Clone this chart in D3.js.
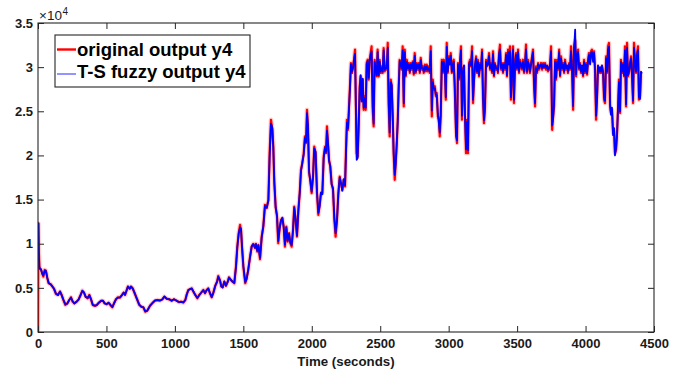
<!DOCTYPE html>
<html><head><meta charset="utf-8">
<script src="https://cdn.jsdelivr.net/npm/d3@7"></script>
<style>body{margin:0;background:#fff;} svg{display:block;}</style>
</head><body><svg id="c" width="698" height="375"></svg>
<script>
const time = [
0,3,6,10,22,31,39,49,58,68, 78,93,105,117,131,146,161,173,185,200,
214,229,241,253,265,283,297,312,324,336, 348,363,375,387,400,416,429,446,462,475,
487,502,516,528,543,555,570,584,599,614, 626,636,648,657,670,679,692,706,721,740,
755,769,784,798,818,838,855,872,891,908, 923,940,959,977,993,1013,1030,1045,1062,1076,
1086,1098,1110,1123,1135,1149,1164,1178,1193,1208, 1220,1232,1244,1256,1269,1281,1295,1308,1317,1330,
1339,1349,1361,1373,1386,1395,1408,1422,1434,1446, 1456,1466,1476,1483,1490,1500,1514,1524,1536,1549,
1561,1573,1585,1592,1602,1610,1622,1634,1646,1658, 1671,1683,1692,1702,1712,1719,1726,1736,1746,1755,
1765,1775,1785,1795,1804,1814,1824,1834,1843,1853, 1863,1872,1882,1892,1902,1912,1921,1931,1941,1950,
1958,1965,1972,1980,1989,1999,2009,2018,2028,2038, 2048,2058,2067,2077,2087,2097,2104,2111,2118,2126,
2135,2145,2155,2165,2174,2184,2194,2204,2213,2223, 2233,2243,2250,2257,2265,2272,2279,2286,2294,2301,
2308,2316,2328,2335,2342,2350,2357,2364,2372,2379, 2386,2394,2401,2408,2416,2423,2430,2437,2445,2452,
2459,2467,2474,2481,2489,2496,2503,2511,2518,2525, 2533,2540,2547,2555,2562,2569,2577,2584,2591,2598,
2606,2613,2620,2628,2635,2642,2650,2657,2664,2672, 2679,2686,2694,2701,2708,2716,2723,2730,2738,2745,
2752,2760,2767,2774,2782,2789,2796,2804,2811,2818, 2826,2833,2840,2847,2855,2862,2869,2877,2884,2891,
2899,2906,2913,2921,2928,2935,2942,2950,2957,2964, 2972,2979,2986,2993,3001,3008,3015,3023,3030,3037,
3044,3054,3061,3068,3076,3083,3090,3097,3105,3112, 3119,3127,3134,3141,3149,3156,3163,3171,3178,3185,
3192,3200,3207,3214,3222,3229,3236,3244,3251,3258, 3265,3273,3280,3287,3295,3302,3309,3317,3324,3331,
3338,3346,3353,3360,3368,3375,3382,3390,3397,3404, 3412,3419,3426,3434,3441,3448,3455,3463,3470,3477,
3485,3492,3499,3507,3514,3521,3529,3536,3543,3551, 3558,3565,3572,3580,3587,3594,3602,3609,3616,3624,
3631,3638,3646,3653,3660,3668,3675,3682,3690,3697, 3704,3712,3719,3726,3734,3741,3748,3756,3763,3770,
3777,3785,3792,3799,3807,3814,3821,3829,3836,3843, 3850,3858,3865,3872,3880,3887,3894,3902,3909,3916,
3924,3931,3938,3945,3953,3960,3967,3974,3982,3989, 3996,4004,4011,4018,4025,4033,4040,4047,4055,4062,
4069,4077,4084,4091,4098,4106,4113,4120,4128,4135, 4142,4150,4157,4164,4171,4179,4186,4193,4201,4208,
4215,4223,4230,4237,4244,4252,4259,4266,4274,4281, 4288,4296,4303,4310,4317,4325,4332,4339,4347,4354,
4361,4369,4376,4383,4390,4398,4405,4412
];
const original = [
0,12300,9300,7400,7030,6650,6270,7030,6950,6090, 5520,5410,5140,4910,4310,4200,4570,4200,3630,3060,
3250,3630,3930,3440,3250,3440,3700,4200,4680,4460, 4000,3820,4200,3700,3060,2950,3060,3330,3550,3520,
3250,3140,3330,3060,2800,3250,3700,3930,3890,4200, 4460,4200,4760,5140,4910,5140,4950,4390,3820,3060,
2870,2800,2300,2420,2950,3330,3550,3630,3550,3700, 4000,3780,3700,3550,3700,3550,3370,3440,3330,3630,
4200,4760,4840,4950,4570,4200,3820,4200,4460,4760, 4390,4760,4950,4390,3930,4460,5220,5700,6350,5820,
5140,5070,5700,5220,5700,6200,5900,5700,5520,7400, 9670,11190,12130,11570,9670,7400,5520,6090,7030,8540,
9670,9980,9490,9980,9110,9870,8240,10810,11940,14400, 14030,14970,20260,24040,22900,21010,16860,14210,13070,10060,
11760,12700,12890,11940,9670,11940,10240,11190,10060,9670, 11570,14210,12700,10810,13830,15730,18370,19130,20260,22150,
21400,25170,23280,18000,17240,15730,17610,21010,20260,15730, 13270,14400,15730,15730,19880,21010,20260,23280,21400,19500,
18740,16860,16100,12700,10810,12700,15730,17610,16860,16100, 17240,16480,20640,24040,22900,25550,27820,30470,29340,30090,
30840,31980,20260,19880,22900,27820,28950,26310,28580,25170, 26680,25170,30470,30840,28580,30840,31600,32350,25170,23280,
30840,29710,28950,31980,28950,30840,29340,30090,29340,32170, 29520,30090,29710,32740,25550,22150,28580,27820,24420,20260,
17240,19130,21010,24040,27820,30840,30470,29710,32350,25550, 31980,28950,30840,29710,30470,29340,30470,29710,30650,29150,
31600,29340,30470,29710,30470,29340,31040,29710,30090,29340, 30280,29520,30280,29520,30090,29340,32350,24420,28580,27440,
27820,26680,27060,24420,24040,22150,24420,30840,29340,30840, 29710,26310,32740,29340,31220,30470,31600,29340,30470,30840,
27820,22530,21400,30470,28580,30650,32350,24040,29710,30090, 24420,20260,24040,20260,30470,30840,30090,32350,25930,28580,
30090,31220,29340,30840,28950,30470,29710,31980,26310,23660, 25170,30840,30090,30470,31600,29710,30470,29340,31790,28950,
30470,29710,30090,29340,31600,32540,29710,30470,29340,30470, 29710,31600,28950,31980,30470,32350,26310,29710,32350,25930,
30470,31600,29710,31980,29340,30840,30090,29710,30840,29340, 30470,32540,29340,30840,30090,29340,30470,31220,31980,27820,
25550,30090,29340,30470,29710,30090,30470,29710,30470,29900, 30470,29710,30090,29520,29710,30470,32350,22900,24420,25550,
30840,28580,30840,29710,31980,28950,31220,29710,30470,29340, 30840,29710,30090,29340,30470,29710,32350,29340,25170,32350,
33000,28950,31600,31980,29710,30470,29340,30090,28950,30840, 29340,30470,29150,30840,31600,30470,31790,31980,30840,31790,
29710,24040,26680,30090,29340,29900,29340,30090,29340,26310, 25930,31220,29340,32350,32740,25550,24800,25170,22530,22900,
20260,20640,22530,25170,28580,24800,30840,29340,30470,28950, 32350,25550,32740,28950,29340,30470,31220,29150,25930,32740,
30840,29340,31600,32350,26310,26680,29340,29340
];
const fuzzy = [
12000,12300,9100,7200,7100,6600,6400,6950,6900,6150, 5550,5380,5180,4880,4350,4180,4600,4150,3680,3150,
3220,3650,3900,3480,3230,3460,3680,4230,4650,4480, 3980,3850,4170,3730,3080,2980,3040,3350,3530,3540,
3230,3160,3300,3090,2830,3220,3720,3900,3920,4180, 4480,4220,4730,5160,4890,5160,4920,4420,3800,3090,
2850,2820,2350,2400,2980,3300,3570,3610,3570,3680, 4020,3760,3720,3530,3720,3530,3390,3420,3350,3600,
4230,4730,4860,4920,4600,4180,3850,4170,4480,4730, 4420,4730,4920,4420,3960,4430,5250,5670,6250,5850,
5170,5040,5730,5250,5670,6170,5930,5680,5560,7300, 9600,11100,11850,11700,9800,7500,5650,6000,7100,8450,
9700,9950,9550,9950,9200,9800,8400,10700,12000,14300, 14100,14900,19800,23600,23100,20800,17200,14100,13200,10300,
11700,12600,12950,11800,9900,11850,10350,11100,10150,9850, 11500,14100,12800,10900,13700,15800,18200,19200,20100,22000,
21500,24800,23400,18300,17100,15900,17500,20800,20400,15900, 13500,14300,15800,15600,19700,20900,20400,22800,21600,19400,
18800,16700,16300,12900,11200,12600,15600,17500,16900,16000, 17300,16600,20300,23700,23100,25300,27600,30300,29500,29900,
30700,31500,19500,19700,23200,27600,29100,26100,28700,25400, 26500,25400,30300,30700,28800,30700,31400,31800,25600,23600,
30600,29900,29100,31700,29100,30600,29500,29900,29500,31900, 29700,29900,29900,32200,25900,22600,28300,28000,24700,20400,
17800,19000,21200,23800,27600,30700,30300,29900,31900,25900, 31700,29100,30600,29900,30300,29500,30300,29900,30500,29300,
31300,29500,30300,29900,30300,29500,30800,29900,29900,29500, 30100,29700,30100,29700,29900,29500,31800,25100,28300,27600,
27600,26900,26800,24700,23800,22600,24700,30600,29500,30600, 29900,26600,32300,29500,31000,30300,31300,29500,30300,30600,
28100,22200,21700,30300,28800,30500,31900,24500,29500,30200, 24700,20700,23800,20600,30300,30600,30200,31800,26300,28400,
30200,31000,29500,30600,29100,30300,29900,31700,26600,24000, 25400,30600,30200,30300,31300,29900,30300,29500,31500,29100,
30300,29900,29900,29500,31400,32000,29900,30300,29500,30300, 29900,31400,29100,31700,30300,31800,26600,29900,32000,26300,
30300,31400,29900,31700,29500,30600,30200,29900,30600,29500, 30300,32000,29500,30600,30200,29500,30300,31000,31700,28100,
25900,29900,29500,30300,29900,30200,30300,29900,30300,30000, 30300,29900,30200,29700,29900,30300,31800,23400,24200,25800,
30600,28800,30600,29900,31700,29100,31000,29900,30300,29500, 30600,29900,30200,29500,30300,29900,31800,29500,25600,32000,
34250,29200,31400,31700,29900,30300,29500,30200,29100,30600, 29500,30300,29300,30600,31400,30300,31600,31700,30600,31600,
29900,24500,26400,30200,29500,30000,29500,30200,29500,26600, 26200,31000,29500,32000,32300,25800,24600,25400,22300,23100,
20000,20900,22300,25400,28300,25000,30600,29500,30300,29100, 31900,25800,32200,29100,29500,30300,31000,29300,26200,32200,
30600,29500,31400,31900,26600,26400,29500,29300
];
const xTicks = [0,500,1000,1500,2000,2500,3000,3500,4000,4500];
const yTicks = [0,5000,10000,15000,20000,25000,30000,35000];
const yTickLabels = ["0","0.5","1","1.5","2","2.5","3","3.5"];
const seriesNames = ["original output y4","T-S fuzzy output y4"];
const xLabel = "Time (seconds)";

const svg = d3.select("#c");
const FONT = "'Liberation Sans', Arial, Helvetica, sans-serif";
const AX = "#262626";
const L = 38, R = 654, T = 23, B = 332;
const x = d3.scaleLinear().domain([0,4500]).range([L,R]);
const y = d3.scaleLinear().domain([0,35000]).range([B,T]);

svg.append("rect").attr("width",698).attr("height",375).attr("fill","#fff");

svg.append("defs").append("clipPath").attr("id","clip")
  .append("rect").attr("x",L).attr("y",T-2).attr("width",R-L).attr("height",B-T+2);

const redPts = time.map((t,i)=>[t, original[i]]);
const bluePts = time.map((t,i)=>[t, fuzzy[i]]);
const line = d3.line().x(d=>x(d[0])).y(d=>y(d[1]));

const g = svg.append("g").attr("clip-path","url(#clip)");
g.append("path").attr("d",line(redPts)).attr("fill","none").attr("stroke","#ff8080")
  .attr("stroke-opacity",0.4).attr("stroke-width",4.5).attr("stroke-linejoin","round");
g.append("path").attr("d",line(redPts)).attr("fill","none").attr("stroke","#ff0000")
  .attr("stroke-width",2.2).attr("stroke-linejoin","round");
g.append("path").attr("d",line(bluePts)).attr("fill","none").attr("stroke","#0000ff")
  .attr("stroke-width",1.8).attr("stroke-linejoin","round");

// axes
const xa = svg.append("g").attr("transform",`translate(0,${B})`)
  .call(d3.axisBottom(x).tickValues(xTicks).tickFormat(d3.format("d")).tickSizeInner(-6).tickSizeOuter(0).tickPadding(7));
const xt = svg.append("g").attr("transform",`translate(0,${T})`)
  .call(d3.axisTop(x).tickValues(xTicks).tickFormat("").tickSizeInner(-6).tickSizeOuter(0));
const ya = svg.append("g").attr("transform",`translate(${L},0)`)
  .call(d3.axisLeft(y).tickValues(yTicks).tickFormat((d,i)=>yTickLabels[i]).tickSizeInner(-6).tickSizeOuter(0).tickPadding(5));
const yr = svg.append("g").attr("transform",`translate(${R},0)`)
  .call(d3.axisRight(y).tickValues(yTicks).tickFormat("").tickSizeInner(-6).tickSizeOuter(0));
[xa,xt,ya,yr].forEach(a=>{
  a.select(".domain").remove();
  a.selectAll(".tick line").attr("stroke",AX).attr("stroke-width",1);
  a.selectAll("text").attr("font-family",FONT).attr("font-size",13).attr("font-weight","bold").attr("fill","#1a1a1a");
});
svg.append("rect").attr("x",L).attr("y",T).attr("width",R-L).attr("height",B-T)
  .attr("fill","none").attr("stroke",AX).attr("stroke-width",1.1);

// exponent
svg.append("text").attr("x",39).attr("y",19.5).attr("font-family",FONT).attr("font-size",13.5)
  .attr("fill","#1a1a1a").text("\u00d710");
svg.append("text").attr("x",62.5).attr("y",14.5).attr("font-family",FONT).attr("font-size",10)
  .attr("fill","#1a1a1a").text("4");

// x label
svg.append("text").attr("x",(L+R)/2).attr("y",366).attr("text-anchor","middle")
  .attr("font-family",FONT).attr("font-size",13.3).attr("font-weight","bold").attr("fill","#1a1a1a").text(xLabel);

// legend
const lg = svg.append("g");
lg.append("rect").attr("x",55).attr("y",35).attr("width",195).attr("height",52)
  .attr("fill","#fff").attr("stroke",AX).attr("stroke-width",1.1);
const legendColors = ["#ff0000","#5a5aff"];
const legendW = [2.4,1.3];
const sampleY = [49.5,74];
const textY = [56,78];
seriesNames.forEach((n,i)=>{
  lg.append("line").attr("x1",57).attr("x2",76).attr("y1",sampleY[i]).attr("y2",sampleY[i])
    .attr("stroke",legendColors[i]).attr("stroke-width",legendW[i]);
  lg.append("text").attr("x",77).attr("y",textY[i]).attr("font-family",FONT)
    .attr("font-size",18.5).attr("font-weight","bold").attr("fill","#000").text(n);
});
</script></body></html>
